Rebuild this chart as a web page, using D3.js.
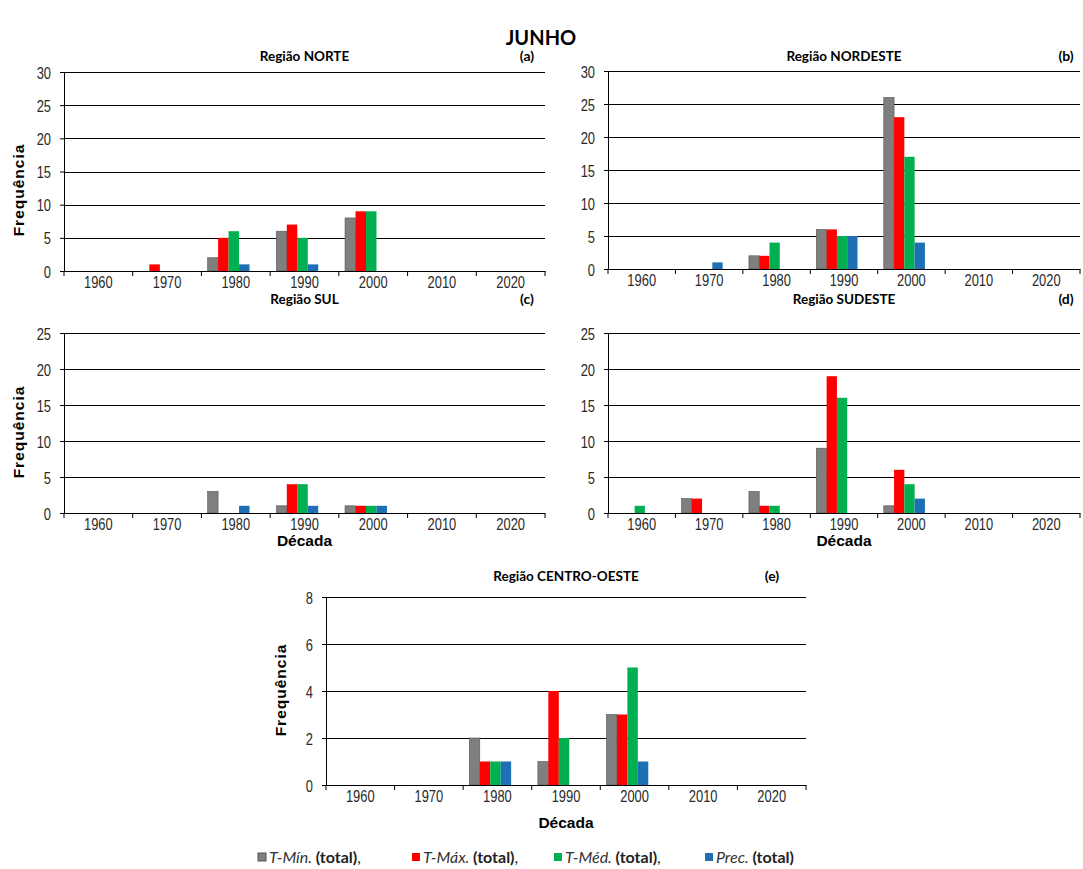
<!DOCTYPE html>
<html>
<head>
<meta charset="utf-8">
<script src="https://cdn.jsdelivr.net/npm/d3@7.9.0/dist/d3.min.js"></script>
<style>
  body { margin: 0; background: #fff; }
  svg { display: block; }
  .tick text { font-family: "Liberation Sans", Arial, sans-serif; font-size: 17px; fill: #2a2a2a; }
  .ttl { font-family: Lato, "Open Sans", sans-serif; font-weight: bold; }
  .axlab { font-family: "Liberation Sans", Arial, sans-serif; font-weight: bold; font-size: 15.5px; }
</style>
</head>
<body>
<svg id="chart" width="1083" height="869"></svg>
<script>
// categories and series
const decades = ['1960', '1970', '1980', '1990', '2000', '2010', '2020'];
const seriesNames = ['T-Mín.', 'T-Máx.', 'T-Méd.', 'Prec.'];
const seriesColors = ['#7f7f7f', '#ff0000', '#00b050', '#1f6fb4'];

// values per region: one row per series (T-Mín, T-Máx, T-Méd, Prec), one column per decade
const norteValues = [
  [0, 0, 2, 6, 8, 0, 0],
  [0, 1, 5, 7, 9, 0, 0],
  [0, 0, 6, 5, 9, 0, 0],
  [0, 0, 1, 1, 0, 0, 0]
];
const nordesteValues = [
  [0, 0, 2, 6, 26, 0, 0],
  [0, 0, 2, 6, 23, 0, 0],
  [0, 0, 4, 5, 17, 0, 0],
  [0, 1, 0, 5, 4, 0, 0]
];
const sulValues = [
  [0, 0, 3, 1, 1, 0, 0],
  [0, 0, 0, 4, 1, 0, 0],
  [0, 0, 0, 4, 1, 0, 0],
  [0, 0, 1, 1, 1, 0, 0]
];
const sudesteValues = [
  [0, 2, 3, 9, 1, 0, 0],
  [0, 2, 1, 19, 6, 0, 0],
  [1, 0, 1, 16, 4, 0, 0],
  [0, 0, 0, 0, 2, 0, 0]
];
const centroOesteValues = [
  [0, 0, 2, 1, 3, 0, 0],
  [0, 0, 1, 4, 3, 0, 0],
  [0, 0, 1, 2, 5, 0, 0],
  [0, 0, 1, 0, 1, 0, 0]
];

const yTicks30 = [0, 5, 10, 15, 20, 25, 30];
const yTicks25 = [0, 5, 10, 15, 20, 25];
const yTicks8 = [0, 2, 4, 6, 8];

const narrow = 0.76; // horizontal squeeze to mimic Arial Narrow

const svg = d3.select('#chart');

svg.append('text')
  .attr('class', 'ttl')
  .attr('x', 541).attr('y', 45)
  .attr('text-anchor', 'middle')
  .style('font-size', '20px')
  .text('JUNHO');

function drawPanel(cfg) {
  const g = svg.append('g');

  const x = d3.scaleBand().domain(decades).range([cfg.x0, cfg.x1]);
  const bw = x.bandwidth();
  const xs = d3.scaleBand().domain(seriesNames).range([bw * 0.09, bw * 0.70]);
  const y = d3.scaleLinear().domain([0, d3.max(cfg.ticks)]).range([cfg.y0, cfg.yTop]);

  // gridlines
  g.selectAll('line.grid')
    .data(cfg.ticks.filter(t => t > 0))
    .join('line')
    .attr('x1', cfg.x0).attr('x2', cfg.x1)
    .attr('y1', d => Math.round(y(d)) + 0.5).attr('y2', d => Math.round(y(d)) + 0.5)
    .attr('stroke', '#000').attr('stroke-width', 1);

  // bars
  const bars = [];
  cfg.values.forEach((row, si) => {
    row.forEach((v, di) => {
      if (v > 0) bars.push({ s: seriesNames[si], d: decades[di], v: v, c: seriesColors[si] });
    });
  });
  g.selectAll('rect.bar')
    .data(bars)
    .join('rect')
    .attr('x', d => x(d.d) + xs(d.s))
    .attr('width', xs.bandwidth())
    .attr('y', d => y(d.v))
    .attr('height', d => cfg.y0 - y(d.v))
    .attr('fill', d => d.c)
    .attr('stroke', d => d.s === 'T-Mín.' ? '#555' : 'none')
    .attr('stroke-width', 0.6);

  // y axis
  const yAxis = g.append('g')
    .attr('transform', `translate(${cfg.x0},0)`)
    .call(d3.axisLeft(y).tickValues(cfg.ticks).tickSize(4).tickPadding(9).tickFormat(d3.format('d')));
  yAxis.select('.domain').attr('stroke', '#000');
  yAxis.selectAll('.tick line').attr('stroke', '#000');
  yAxis.selectAll('.tick text')
    .attr('dy', '0.36em')
    .attr('x', -13 / narrow)
    .attr('transform', `scale(${narrow},1)`);

  // x axis: labels centred, ticks between categories
  const xAxis = g.append('g')
    .attr('transform', `translate(0,${cfg.y0})`)
    .call(d3.axisBottom(x).tickSize(0).tickPadding(5));
  xAxis.select('.domain').attr('stroke', '#000');
  xAxis.selectAll('.tick text').attr('transform', `scale(${narrow},1)`);
  g.selectAll('line.xtick')
    .data(decades.concat(['end']))
    .join('line')
    .attr('x1', (d, i) => cfg.x0 + i * bw).attr('x2', (d, i) => cfg.x0 + i * bw)
    .attr('y1', cfg.y0).attr('y2', cfg.y0 + 5)
    .attr('stroke', '#000');

  // titles
  g.append('text')
    .attr('class', 'ttl')
    .attr('x', (cfg.x0 + cfg.x1) / 2).attr('y', cfg.titleY)
    .attr('text-anchor', 'middle')
    .style('font-size', '13.5px')
    .text(cfg.title);
  g.append('text')
    .attr('class', 'ttl')
    .attr('x', cfg.tagX).attr('y', cfg.titleY)
    .attr('text-anchor', 'middle')
    .style('font-size', '14px')
    .text(cfg.tag);

  if (cfg.freqX) {
    g.append('text')
      .attr('class', 'axlab')
      .attr('transform', `translate(${cfg.freqX},${cfg.freqY}) rotate(-90)`)
      .attr('text-anchor', 'middle')
      .style('letter-spacing', '1px')
      .text('Frequência');
  }
  if (cfg.decadaY) {
    g.append('text')
      .attr('class', 'axlab')
      .attr('x', (cfg.x0 + cfg.x1) / 2).attr('y', cfg.decadaY)
      .attr('text-anchor', 'middle')
      .text('Década');
  }
}

drawPanel({ values: norteValues, ticks: yTicks30, x0: 64, x1: 545, yTop: 72, y0: 271,
  title: 'Região NORTE', tag: '(a)', tagX: 527, titleY: 61, freqX: 24, freqY: 190 });
drawPanel({ values: nordesteValues, ticks: yTicks30, x0: 608, x1: 1080, yTop: 71, y0: 269,
  title: 'Região NORDESTE', tag: '(b)', tagX: 1066, titleY: 61 });
drawPanel({ values: sulValues, ticks: yTicks25, x0: 64, x1: 545, yTop: 333, y0: 513,
  title: 'Região SUL', tag: '(c)', tagX: 527, titleY: 304, freqX: 24, freqY: 432, decadaY: 546 });
drawPanel({ values: sudesteValues, ticks: yTicks25, x0: 608, x1: 1080, yTop: 333, y0: 513,
  title: 'Região SUDESTE', tag: '(d)', tagX: 1066, titleY: 304, decadaY: 546 });
drawPanel({ values: centroOesteValues, ticks: yTicks8, x0: 326, x1: 806, yTop: 597, y0: 785,
  title: 'Região CENTRO-OESTE', tag: '(e)', tagX: 772, titleY: 581, freqX: 286, freqY: 690, decadaY: 828 });

// legend
const legend = svg.append('g').attr('transform', 'translate(258,863)');
const legendX = [0, 154, 296, 447];
seriesNames.forEach((name, i) => {
  const item = legend.append('g').attr('transform', `translate(${legendX[i]},0)`);
  item.append('rect')
    .attr('x', 0).attr('y', -10).attr('width', 8).attr('height', 8)
    .attr('fill', seriesColors[i])
    .attr('stroke', i === 0 ? '#555' : 'none');
  const t = item.append('text')
    .attr('x', 11).attr('y', 0)
    .style('font-family', 'Lato, "Open Sans", sans-serif')
    .style('font-size', '16px')
    .attr('fill', '#222');
  t.append('tspan').style('font-style', 'italic').style('fill', '#333').text(name + ' ');
  t.append('tspan').style('font-weight', 'bold').text('(total)');
  if (i < seriesNames.length - 1) t.append('tspan').text(',');
});
</script>
</body>
</html>
